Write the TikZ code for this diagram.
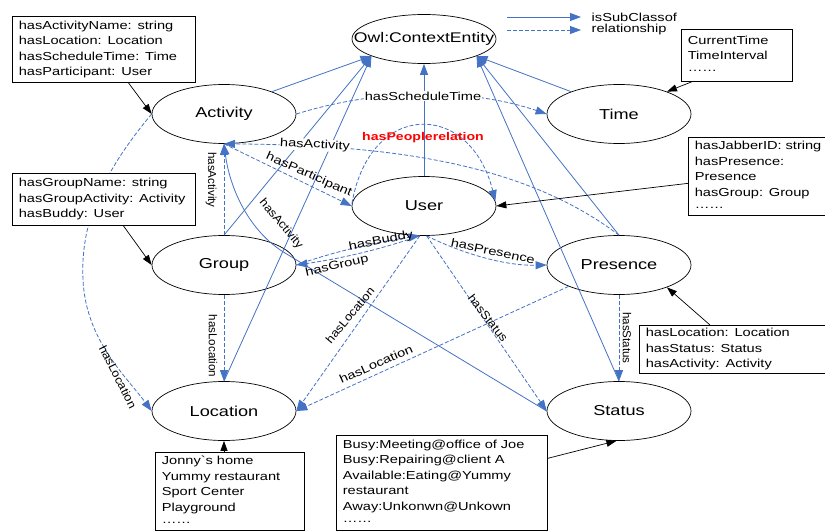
\documentclass[tikz,border=0pt]{standalone}
\usepackage{fontspec}
\setmainfont{Liberation Sans}[FakeStretch=1.26]
\newfontfamily\midfont{Liberation Sans}[FakeStretch=1.1]
\newfontfamily\plainfont{Liberation Sans}
\usetikzlibrary{arrows.meta,shapes.geometric}
\definecolor{lblue}{RGB}{68,114,196}
\newcommand\mydots{\raisebox{3.5pt}{……}}
\begin{document}
\begin{tikzpicture}[x=1pt,y=-1pt,
  cls/.style={draw, ellipse, line width=0.7pt, minimum width=144pt, minimum height=59pt, inner sep=0pt, font=\fontsize{14.4pt}{17pt}\selectfont},
  ibox/.style={draw, fill=white, line width=0.7pt, anchor=north west, align=left, inner xsep=6.5pt, inner ysep=0pt, font=\fontsize{11.6pt}{15.5pt}\selectfont},
  lbl/.style={inner sep=0.5pt, font=\fontsize{11.6pt}{13pt}\selectfont},
  lblmid/.style={inner sep=0.5pt, font=\midfont\fontsize{11.6pt}{13pt}\selectfont},
  lblv/.style={inner sep=0.5pt, font=\plainfont\fontsize{11.6pt}{13pt}\selectfont},
  sub/.style={lblue, line width=0.8pt, -{Triangle[length=11pt,width=8pt]}},
  rel/.style={sub, dash pattern=on 4pt off 2pt},
  solidrel/.style={lblue, line width=0.8pt, {Triangle[length=11pt,width=8pt]}-},
  note/.style={black, line width=0.7pt, -{Triangle[length=10pt,width=7pt]}}
]
\useasboundingbox (0,0) rectangle (825,532);
\fill[white] (0,0) rectangle (825,532);

% classes
\node[cls, minimum height=49pt] (Owl) at (424,39) {\makebox[0pt]{\fontsize{14pt}{17pt}\selectfont Owl:ContextEntity}};
\node[cls] (Activity) at (224,114) {Activity};
\node[cls] (Time) at (619,114) {Time};
\node[cls] (User) at (424,206) {User};
\node[cls] (Group) at (224,265) {Group};
\node[cls] (Presence) at (619,265) {Presence};
\node[cls] (Location) at (224,411) {Location};
\node[cls] (Status) at (619,411) {Status};

% subclass links
\draw[sub] (Activity.25) -- (Owl.198);
\draw[sub] (Group.north) -- (Owl.198);
\draw[sub] (Location.north) -- (Owl.198);
\draw[sub] (User.north) -- (Owl.south);
\draw[sub] (Time.155) -- (Owl.-18);
\draw[sub] (Presence.north) -- (Owl.-18);
\draw[sub] (Status.north) -- (Owl.-18);

% relationships
\draw[rel] (Activity.east) .. controls (380,88) and (470,88) .. (Time.west);
\draw[rel] (Activity.south) -- (User.west);
\draw[rel] (User.178) .. controls (370,100) and (470,100) .. (User.4);
\draw[rel] (Presence.north) .. controls (520,160) and (380,145) .. (Activity.south);
\draw[rel] (Group.north) -- (Activity.south);
\draw[solidrel] (Activity.south) .. controls (230,190) and (250,232) .. (285,253) -- (Status.west);
\draw[rel] (Group.east) .. controls (336,251) and (377,242) .. (User.262);
\draw[rel] (User.262) .. controls (379,250) and (338,259) .. (Group.east);
\draw[rel] (User.-85) .. controls (455,250) and (500,266) .. (Presence.west);
\draw[rel] (User.262) -- (Location.east);
\draw[rel] (User.-85) -- (Status.west);
\draw[rel] (Presence.203) -- (Location.east);
\draw[rel] (Presence.south) -- (Status.north);
\draw[rel] (Group.south) -- (Location.north);
\draw[rel] (Activity.west) .. controls (105,170) and (80,220) .. (83,280) .. controls (86,340) and (125,375) .. (Location.west);

% attribute boxes
\node[ibox, text width=170pt, minimum height=66pt] (abox) at (12,16) {hasActivityName: string\\hasLocation: Location\\hasScheduleTime: Time\\hasParticipant: User};
\node[ibox, text width=98pt, minimum height=52pt] (tbox) at (681,29) {CurrentTime\\TimeInterval\\\mydots};
\node[ibox, text width=170pt, minimum height=52pt] (gbox) at (12,173) {hasGroupName: string\\hasGroupActivity: Activity\\hasBuddy: User};
\node[ibox, text width=140pt, minimum height=78pt] (ubox) at (688,137) {hasJabberID: string\\hasPresence:\\Presence\\hasGroup: Group\\\mydots};
\node[ibox, text width=180pt, minimum height=48pt] (pbox) at (639,325) {hasLocation: Location\\hasStatus: Status\\hasActivity: Activity};
\node[ibox, text width=136pt, minimum height=78pt] (lbox) at (155,452) {Jonny{\addfontfeatures{Ligatures=TeXOff}\symbol{96}}s home\\Yummy restaurant\\Sport Center\\Playground\\\mydots};
\node[ibox, text width=198pt, minimum height=95pt] (sbox) at (336,435) {Busy:Meeting@office of Joe\\Busy:Repairing@client A\\Available:Eating@Yummy\\restaurant\\Away:Unkonwn@Unkown\\\mydots};

\draw[note] ([xshift=24.5pt]abox.south) -- (Activity.west);
\draw[note] ([xshift=19.5pt]gbox.south) -- (Group.west);
\draw[note] ([xshift=11pt]tbox.south west) -- (Time.25);
\draw[note] ([yshift=-7pt]ubox.west) -- (User.east);
\draw[note] ([xshift=71pt]pbox.north west) -- (Presence.-25);
\draw[note] (lbox.north -| Location.south) -- (Location.south);
\draw[note] ([yshift=24.5pt]sbox.east) -- (Status.-95);

% edge labels
\node[lbl, fill=white] (lST) at (423,96) {hasScheduleTime};
\node[inner sep=0.5pt, text=red, font=\bfseries\fontsize{11.2pt}{13pt}\selectfont] (lPR) at (423,138) {hasPeoplerelation};
\node[lbl, fill=white, rotate=-3] (lPA) at (315,145) {hasActivity};
\node[lbl, rotate=-24] (lPart) at (309,175) {hasParticipant};
\node[lblv, rotate=-90] (lGA) at (211,180) {hasActivity};
\node[lblmid, rotate=-50] (lSA) at (281,224) {hasActivity};
\node[lbl, rotate=11] (lBud) at (381,241) {hasBuddy};
\node[lbl, rotate=13] (lGrp) at (337,266) {hasGroup};
\node[lbl, rotate=-12] (lPres) at (493,251) {hasPresence};
\node[lblv, rotate=-90] (lGL) at (213,346) {hasLocation};
\node[lblmid, rotate=50] (lUL) at (350,315) {hasLocation};
\node[lblmid, rotate=-52] (lUS) at (488,318) {hasStatus};
\node[lblv, rotate=-90] (lPS) at (627,338) {hasStatus};
\node[lbl, rotate=24] (lPL) at (376,364) {hasLocation};
\node[lblmid, rotate=-63] (lAL) at (118,377) {hasLocation};

% legend
\coordinate (lg1a) at (507,17);
\coordinate (lg1b) at (581,17);
\coordinate (lg2a) at (507,30);
\coordinate (lg2b) at (581,30);
\draw[sub] (lg1a) -- (lg1b);
\draw[rel] (lg2a) -- (lg2b);
\node[lbl, anchor=west] (lgt1) at (591,17) {isSubClassof};
\node[lbl, anchor=west] (lgt2) at (591,30) {relationship};
\end{tikzpicture}
\end{document}
